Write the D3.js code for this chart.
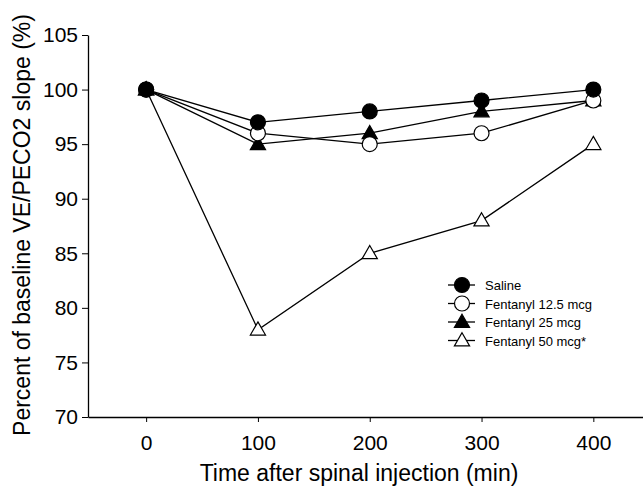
<!DOCTYPE html>
<html>
<head>
<meta charset="utf-8">
<script src="https://cdn.jsdelivr.net/npm/d3@7"></script>
<style>
  body { margin: 0; background: #fff; overflow: hidden; }
  svg { font-family: "Liberation Sans", Arial, sans-serif; display: block; }
</style>
</head>
<body>
<div id="chart"></div>
<script>
"use strict";

// data
const times = [0, 100, 200, 300, 400];
const saline = [100, 97, 98, 99, 100];
const fent125 = [100, 96, 95, 96, 99];
const fent25 = [100, 95, 96, 98, 99];
const fent50 = [100, 78, 85, 88, 95];
const seriesNames = ["Saline", "Fentanyl 12.5 mcg", "Fentanyl 25 mcg", "Fentanyl 50 mcg*"];
const xTicks = [0, 100, 200, 300, 400];
const yTicks = [70, 75, 80, 85, 90, 95, 100, 105];

const series = [
    { name: seriesNames[0], values: saline, shape: "circle", fill: "#000" },
    { name: seriesNames[1], values: fent125, shape: "circle", fill: "#fff" },
    { name: seriesNames[2], values: fent25, shape: "triangle", fill: "#000" },
    { name: seriesNames[3], values: fent50, shape: "triangle", fill: "#fff" }
];

const W = 643, H = 489;

const svg = d3.select("#chart").append("svg")
    .attr("width", W)
    .attr("height", H);

// the original plot runs past the right edge of the picture
const x = d3.scaleLinear().domain([-52, 448]).range([88, 647]);
const y = d3.scaleLinear().domain([70, 105]).range([417, 35]);

// axes
const xAxis = svg.append("g")
    .attr("transform", "translate(0," + y(70) + ")")
    .call(d3.axisBottom(x).tickValues(xTicks).tickSize(5).tickSizeOuter(0).tickPadding(13));
const yAxis = svg.append("g")
    .attr("transform", "translate(" + x(-52) + ",0)")
    .call(d3.axisLeft(y).tickValues(yTicks).tickSize(6).tickSizeOuter(0).tickPadding(4));

[xAxis, yAxis].forEach(g => {
    g.select(".domain").attr("stroke", "#000").attr("stroke-width", 1.3);
    g.selectAll(".tick line").attr("stroke", "#000").attr("stroke-width", 1);
    g.selectAll("text").attr("font-size", 21).attr("fill", "#000")
        .attr("font-family", "'Liberation Sans', Arial, sans-serif");
});

// axis titles
svg.append("text")
    .attr("x", 359)
    .attr("y", 481)
    .attr("text-anchor", "middle")
    .attr("font-size", 23)
    .text("Time after spinal injection (min)");

svg.append("text")
    .attr("transform", "translate(30," + 225 + ") rotate(-90)")
    .attr("text-anchor", "middle")
    .attr("font-size", 23)
    .text("Percent of baseline VE/PECO2 slope (%)");

const triSym = d3.symbol().type(d3.symbolTriangle).size(100);

const drawMarker = (g, s) => {
    if (s.shape === "circle") {
        g.append("circle").attr("r", 7.5);
    } else {
        g.append("path").attr("d", triSym).attr("transform", "translate(0,1)");
    }
    g.selectAll("circle, path")
        .attr("fill", s.fill)
        .attr("stroke", "#000")
        .attr("stroke-width", 1.2);
};

const line = d3.line()
    .x((d, i) => x(times[i]))
    .y(d => y(d));

// lines first, then markers on top (reverse order so saline sits on top)
series.slice().reverse().forEach(s => {
    svg.append("path")
        .datum(s.values)
        .attr("fill", "none")
        .attr("stroke", "#000")
        .attr("stroke-width", 1.3)
        .attr("d", line);
});

series.slice().reverse().forEach(s => {
    s.values.forEach((v, i) => {
        const g = svg.append("g")
            .attr("transform", "translate(" + x(times[i]) + "," + y(v) + ")");
        drawMarker(g, s);
    });
});

// legend
const legend = svg.append("g").attr("transform", "translate(462,285)");
series.forEach((s, i) => {
    const row = legend.append("g").attr("transform", "translate(0," + (i * 18.5) + ")");
    row.append("line")
        .attr("x1", -14).attr("x2", 13)
        .attr("stroke", "#000").attr("stroke-width", 1.3);
    drawMarker(row, s);
    row.append("text")
        .attr("x", 23)
        .attr("y", 5)
        .attr("font-size", 13)
        .text(s.name);
});
</script>
</body>
</html>
